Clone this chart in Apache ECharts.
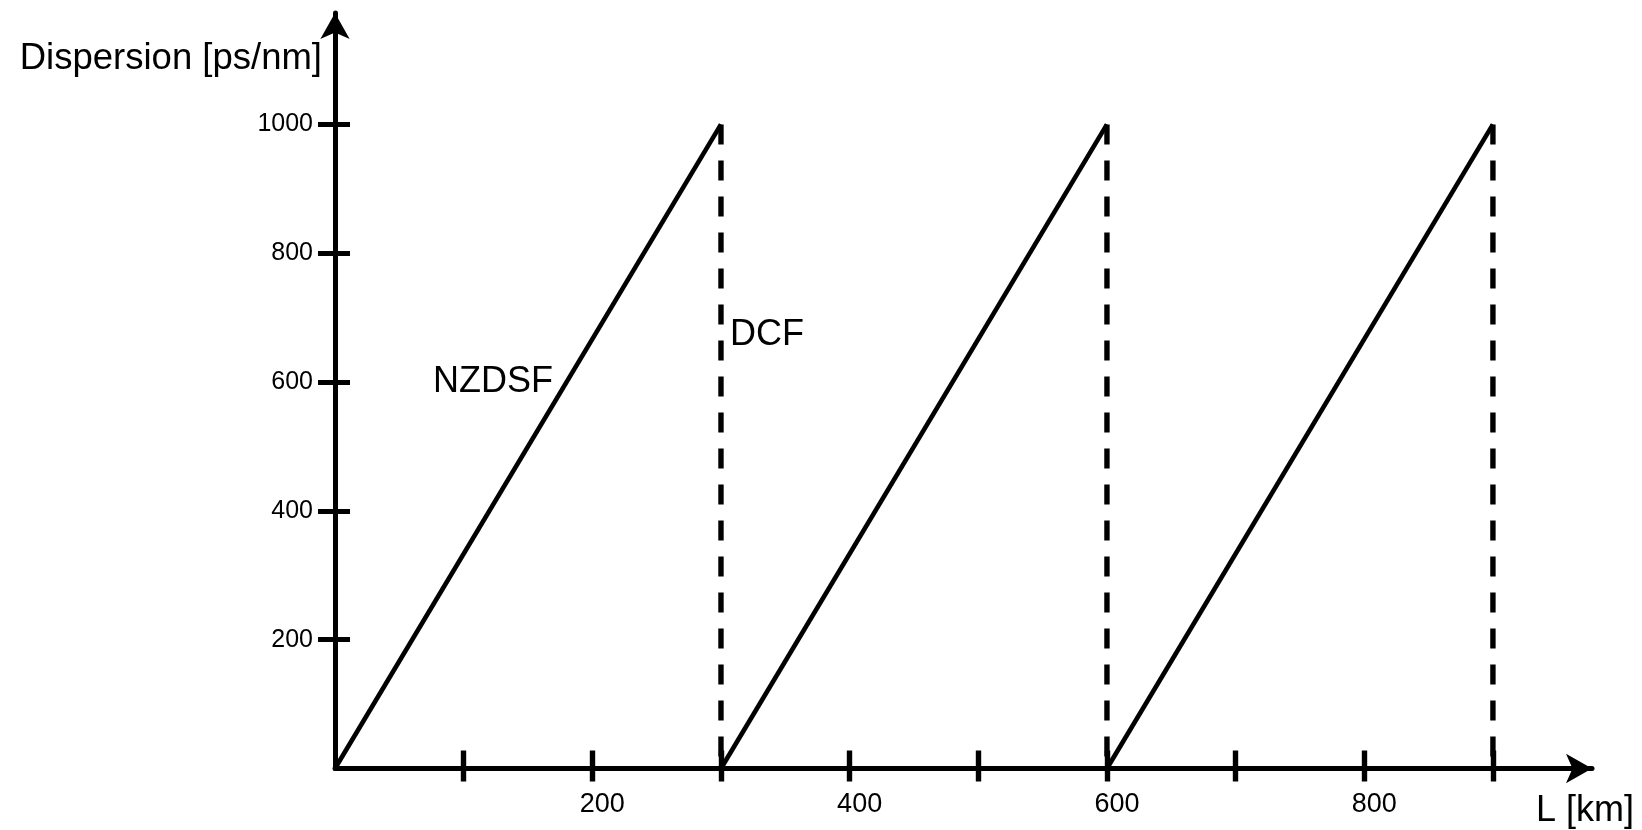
<!DOCTYPE html>
<html>
<head>
<meta charset="utf-8">
<script src="https://cdn.jsdelivr.net/npm/echarts@6/dist/echarts.min.js"></script>
<style>
html,body{margin:0;padding:0;background:#fff;}
#chart{width:1642px;height:830px;}
</style>
</head>
<body>
<div id="chart"></div>
<script>
// ---- data ----
const spanStartKm = [0, 300, 600];
const spanEndKm = [300, 600, 900];
const dispersionStart = [0, 0, 0];
const dispersionEnd = [1000, 1000, 1000];
const dcfPositionsKm = [300, 600, 900];
const xTickValues = [100, 200, 300, 400, 500, 600, 700, 800, 900];
const xLabelValues = [200, 400, 600, 800];
const yTickValues = [200, 400, 600, 800, 1000];
const yLabelValues = [200, 400, 600, 800, 1000];
const xTitle = 'L [km]';
const yTitle = 'Dispersion [ps/nm]';
const fiberLabel = 'NZDSF';
const dcfLabel = 'DCF';

const FONT = '"Liberation Sans", Arial, sans-serif';
const X_MAX = 977, Y_MAX = 1173;

const series = [];
for (let i = 0; i < spanStartKm.length; i++) {
  series.push({
    type: 'line', xAxisIndex: 0, yAxisIndex: 0, symbol: 'none', silent: true,
    lineStyle: { color: '#000', width: 4.6 },
    data: [[spanStartKm[i], dispersionStart[i]], [spanEndKm[i], dispersionEnd[i]]]
  });
}
for (let i = 0; i < dcfPositionsKm.length; i++) {
  series.push({
    type: 'line', xAxisIndex: 0, yAxisIndex: 0, symbol: 'none', silent: true,
    lineStyle: { color: '#000', width: 5.4, type: [20, 16] },
    data: [[dcfPositionsKm[i], dispersionEnd[i]], [dcfPositionsKm[i], 0]]
  });
}

const plain = v => String(v);
const chart = echarts.init(document.getElementById('chart'), null, { renderer: 'canvas' });
const axisCommon = { type: 'value', splitLine: { show: false } };
chart.setOption({
  animation: false,
  backgroundColor: '#fff',
  grid: { left: 335, right: 1642 - 1592, top: 13, bottom: 830 - 768.5, containLabel: false },
  xAxis: [
    Object.assign({}, axisCommon, {
      min: 0, max: X_MAX,
      axisLine: { show: true, symbol: ['none', 'arrow'], symbolSize: [22, 26], lineStyle: { color: '#000', width: 5 } },
      axisTick: { show: true, inside: false, length: 13, customValues: xTickValues, lineStyle: { color: '#000', width: 5.4 } },
      axisLabel: { show: true, customValues: xLabelValues, formatter: plain, margin: 23, color: '#000', fontSize: 27, fontFamily: FONT, padding: [0, 0, 0, 20] }
    }),
    Object.assign({}, axisCommon, {
      min: 0, max: X_MAX, position: 'bottom',
      axisLine: { show: false },
      axisTick: { show: true, inside: true, length: 18, customValues: xTickValues, lineStyle: { color: '#000', width: 5.4 } },
      axisLabel: { show: false }
    })
  ],
  yAxis: [
    Object.assign({}, axisCommon, {
      min: 0, max: Y_MAX,
      axisLine: { show: true, symbol: ['none', 'arrow'], symbolSize: [22, 26], lineStyle: { color: '#000', width: 5 } },
      axisTick: { show: true, inside: false, length: 17, customValues: yTickValues, lineStyle: { color: '#000', width: 5 } },
      axisLabel: { show: true, customValues: yLabelValues, formatter: plain, margin: 22, color: '#000', fontSize: 25, fontFamily: FONT }
    }),
    Object.assign({}, axisCommon, {
      min: 0, max: Y_MAX, position: 'left',
      axisLine: { show: false },
      axisTick: { show: true, inside: true, length: 15, customValues: yTickValues, lineStyle: { color: '#000', width: 5 } },
      axisLabel: { show: false }
    })
  ],
  series: series,
  graphic: [
    { type: 'text', right: 1642 - 322, top: 56 - 16, style: { text: yTitle, fill: '#000', font: '36.5px ' + FONT } },
    { type: 'text', right: 1642 - 1634, top: 808 - 15, style: { text: xTitle, fill: '#000', font: '36px ' + FONT } },
    { type: 'text', left: 433, top: 379 - 15, style: { text: fiberLabel, fill: '#000', font: '36px ' + FONT } },
    { type: 'text', left: 730, top: 332 - 15, style: { text: dcfLabel, fill: '#000', font: '36px ' + FONT } }
  ]
});
</script>
</body>
</html>
